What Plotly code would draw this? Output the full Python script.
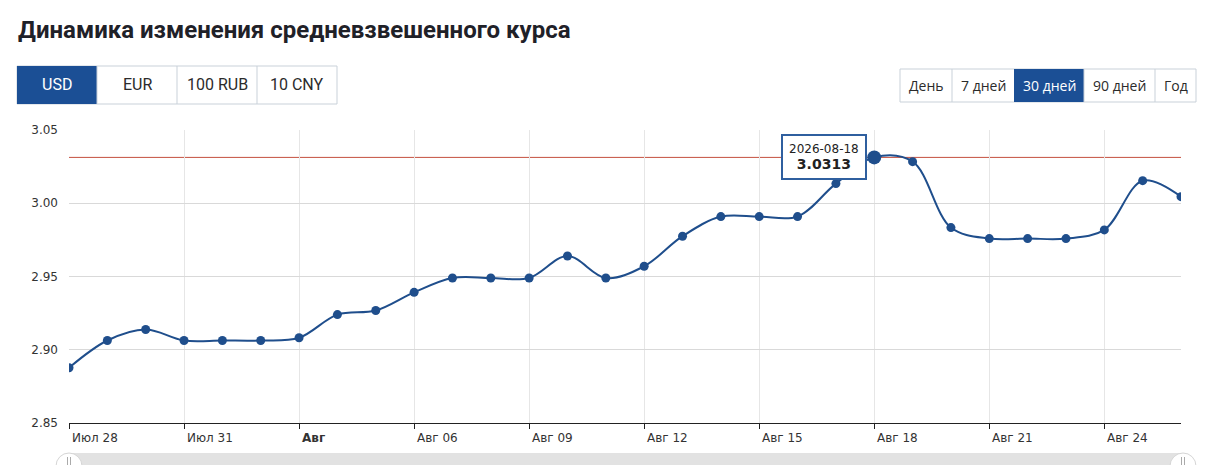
import pandas as pd
import plotly.graph_objects as go

# Weighted average rate, one point per day
dates = pd.date_range("2026-07-28", "2026-08-26", freq="D")
rates = [2.8877, 2.9063, 2.9138, 2.9063, 2.9063, 2.9063, 2.9082, 2.9240, 2.9268, 2.9392,
         2.9490, 2.9490, 2.9490, 2.9640, 2.9490, 2.9570, 2.9775, 2.9909, 2.9909, 2.9909,
         3.0134, 3.0313, 3.0284, 2.9834, 2.9759, 2.9759, 2.9759, 2.9818, 3.0154, 3.0045]

tick_dates = ["2026-07-28", "2026-07-31", "2026-08-03", "2026-08-06", "2026-08-09",
              "2026-08-12", "2026-08-15", "2026-08-18", "2026-08-21", "2026-08-24"]
tick_labels = ["Июл 28", "Июл 31", "<b>Авг</b>", "Авг 06", "Авг 09",
               "Авг 12", "Авг 15", "Авг 18", "Авг 21", "Авг 24"]
y_ticks = [2.85, 2.90, 2.95, 3.00, 3.05]

currencies = ["USD", "EUR", "100 RUB", "10 CNY"]
periods = ["День", "7 дней", "30 дней", "90 дней", "Год"]
hover_idx = 21  # 2026-08-18

title = "Динамика изменения средневзвешенного курса"

# page pixel geometry (the html body adds an 8px margin)
OFF = 8
W, H = 1207 - OFF, 465 - OFF
L, R, T, B = 69, 1181, 130, 423
BLUE = "#1b4f95"
LINE = "#1f4e8c"


def px(x):
    return (x - L) / (R - L)


def py(y):
    return (B - y) / (B - T)


fig = go.Figure()
fig.add_trace(go.Scatter(
    x=dates, y=rates, mode="lines+markers",
    line=dict(color=LINE, width=2, shape="spline", smoothing=1.0),
    marker=dict(color=LINE, size=9),
    hoverinfo="skip",
))
# hovered point
fig.add_trace(go.Scatter(
    x=[dates[hover_idx]], y=[rates[hover_idx]], mode="markers",
    marker=dict(color=LINE, size=14), hoverinfo="skip",
))

shapes = []
annotations = []

# max line
shapes.append(dict(type="line", xref="paper", yref="y", x0=0, x1=1,
                   y0=max(rates), y1=max(rates), line=dict(color="#c4503f", width=1),
                   layer="below"))

# x tick labels, left aligned at the tick
for d, lab in zip(tick_dates, tick_labels):
    annotations.append(dict(x=d, y=0, xref="x", yref="paper", text=lab, showarrow=False,
                            xanchor="left", yanchor="top", xshift=1, yshift=-6,
                            font=dict(family="DejaVu Sans", size=12, color="#333")))

# tooltip
annotations.append(dict(
    x=dates[hover_idx], y=rates[hover_idx], xref="x", yref="y",
    text=f"{dates[hover_idx]:%Y-%m-%d}<br><b><span style='font-size:14px'>{rates[hover_idx]:.4f}</span></b>",
    showarrow=False, xanchor="right", yanchor="middle", xshift=-7,
    bgcolor="white", bordercolor="#2f5f9f", borderwidth=2, borderpad=6,
    font=dict(family="DejaVu Sans", size=12, color="#222"), align="center",
))

# title
annotations.append(dict(x=px(16), y=py(30), xref="paper", yref="paper", text=f"<b>{title}</b>",
                        showarrow=False, xanchor="left", yanchor="middle",
                        font=dict(family="Roboto", size=24, color="#1f2128")))


def button_group(labels, edges, y0, y1, active, font):
    shapes.append(dict(type="rect", xref="paper", yref="paper",
                       x0=px(edges[0]), x1=px(edges[-1]), y0=py(y1), y1=py(y0),
                       line=dict(color="#c9d1d9", width=1), fillcolor="white"))
    for i, lab in enumerate(labels):
        a, b = edges[i], edges[i + 1]
        if i == active:
            shapes.append(dict(type="rect", xref="paper", yref="paper",
                               x0=px(a), x1=px(b), y0=py(y1), y1=py(y0),
                               line=dict(width=0), fillcolor=BLUE))
        elif i > 0:
            shapes.append(dict(type="line", xref="paper", yref="paper",
                               x0=px(a), x1=px(a), y0=py(y1), y1=py(y0),
                               line=dict(color="#c9d1d9", width=1)))
        annotations.append(dict(x=px((a + b) / 2), y=py((y0 + y1) / 2), xref="paper", yref="paper",
                                text=lab, showarrow=False, xanchor="center", yanchor="middle",
                                font=dict(family=font[0], size=font[1],
                                          color="white" if i == active else "#2b2b2b")))


button_group(currencies, [17, 97, 177, 257, 337], 66, 104, 0, ("Roboto", 16))
button_group(periods, [900, 952, 1014, 1084, 1155, 1196], 69, 102, 2, ("Open Sans", 14))

# navigator scrollbar at the bottom
shapes.append(dict(type="rect", xref="paper", yref="paper", x0=px(72), x1=px(1183),
                   y0=py(475), y1=py(453), line=dict(width=0), fillcolor="#e2e2e2"))
for cx in (69, 1183):
    shapes.append(dict(type="circle", xref="paper", yref="paper", x0=px(cx - 13), x1=px(cx + 13),
                       y0=py(479), y1=py(453), line=dict(color="#d5d5d5", width=1), fillcolor="white"))
    for dx in (-1.5, 1.5):
        shapes.append(dict(type="line", xref="paper", yref="paper", x0=px(cx + dx), x1=px(cx + dx),
                           y0=py(466), y1=py(457), line=dict(color="#aaaaaa", width=1)))

fig.update_layout(
    width=W, height=H,
    margin=dict(l=L - OFF, r=W - (R - OFF), t=T - OFF, b=H - (B - OFF), autoexpand=False),
    paper_bgcolor="white", plot_bgcolor="white",
    showlegend=False,
    shapes=shapes, annotations=annotations,
    xaxis=dict(
        type="date", range=[dates[0], dates[-1]],
        tickvals=tick_dates, showticklabels=False,
        showgrid=True, gridcolor="#e6e6e6", gridwidth=1,
        showline=True, linecolor="#222", linewidth=1,
        ticks="outside", ticklen=5, tickcolor="#222",
        zeroline=False, fixedrange=True,
    ),
    yaxis=dict(
        range=[2.85, 3.05], tickvals=y_ticks, tickformat=".2f",
        showgrid=True, gridcolor="#d9d9d9", gridwidth=1,
        zeroline=False, ticks="", ticklabelstandoff=10,
        tickfont=dict(family="DejaVu Sans", size=12, color="#333"),
        fixedrange=True,
    ),
)

fig.write_html("out.html", config={"displayModeBar": False})
